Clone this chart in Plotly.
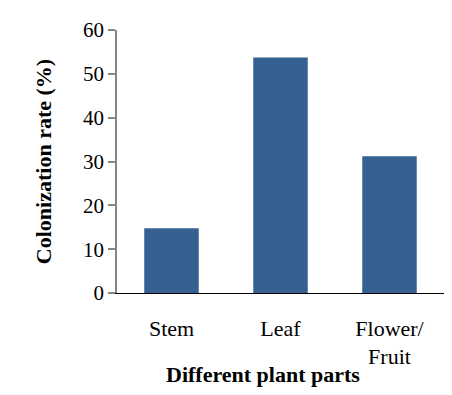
import plotly.graph_objects as go

categories = ["Stem", "Leaf", "Flower/<br>Fruit"]
values = [14.8, 53.7, 31.2]
y_ticks = [0, 10, 20, 30, 40, 50, 60]

fig = go.Figure(go.Bar(x=categories, y=values, marker_color="#366092", marker_line_width=0))

font_family = "Liberation Serif, Times New Roman, serif"
fig.update_layout(
    width=452, height=395,
    margin=dict(l=117, r=8, t=30, b=102),
    plot_bgcolor="white", paper_bgcolor="white",
    bargap=0.5,
    showlegend=False,
    font=dict(family=font_family, size=21, color="black"),
)
fig.update_yaxes(
    range=[0, 60], tickvals=y_ticks, showgrid=False, zeroline=False,
    showline=True, linecolor="#868686", linewidth=1.5,
    ticks="outside", ticklen=7, tickcolor="#868686", tickwidth=1.5,
    tickfont=dict(size=21), automargin=False,
    title=dict(text="<b>Colonization rate (%)</b>", font=dict(size=22), standoff=25),
)
fig.update_xaxes(
    showgrid=False, showline=True, linecolor="black", linewidth=1.2,
    ticks="", ticklabelstandoff=15, tickfont=dict(size=22), automargin=False,
)
fig.add_annotation(
    text="<b>Different plant parts</b>", xref="paper", yref="paper",
    x=0.447, y=-0.31, xanchor="center", yanchor="middle", showarrow=False,
    font=dict(size=22),
)
fig.write_html("out.html", config={"displayModeBar": False})

with open("out.html", encoding="utf-8") as f:
    html = f.read()
html = html.replace("<head>", "<head><style>body{margin:0;}</style>", 1)
with open("out.html", "w", encoding="utf-8") as f:
    f.write(html)
